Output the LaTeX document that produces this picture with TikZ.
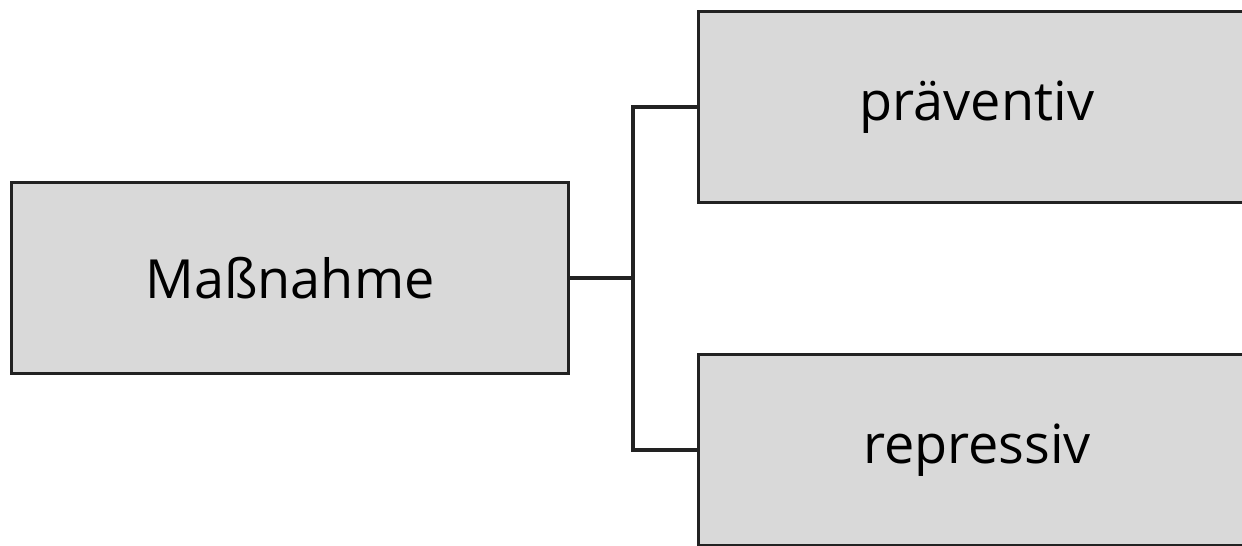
\documentclass[tikz,border=0pt]{standalone}
\usepackage{fontspec}
\setmainfont{Open Sans}
\definecolor{boxfill}{HTML}{D9D9D9}
\definecolor{boxline}{HTML}{222222}
\begin{document}
\begin{tikzpicture}[x=1pt,y=-1pt,
  box/.style={draw=boxline, fill=boxfill, line width=3.8pt, rectangle,
    minimum width=557pt, minimum height=191pt, inner sep=0pt,
    font=\fontsize{54}{60}\selectfont},
  conn/.style={draw=boxline, line width=3.4pt}]
\useasboundingbox (0,0) rectangle (1242,546);
\clip (0,0) rectangle (1242,546);
\node[box] (m) at (290,278) {Maßnahme};
\node[box] (p) at (977,107) {präventiv};
\node[box] (r) at (977,450) {repressiv};
\coordinate (j) at (633,278);
\draw[conn] (m.east) -- (j);
\draw[conn] (p.west) -| (j) |- (r.west);
\end{tikzpicture}
\end{document}
